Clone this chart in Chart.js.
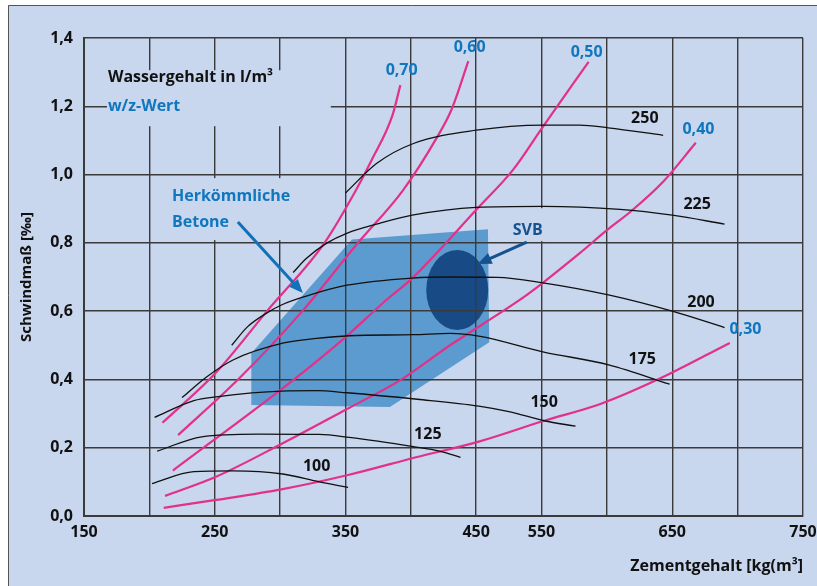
<!DOCTYPE html>
<html>
<head>
<meta charset="utf-8">
<script src="https://cdn.jsdelivr.net/npm/chart.js@4"></script>
<style>
  body { margin: 0; background: #fff; }
  canvas { display: block; }
</style>
</head>
<body>
<canvas id="myChart" width="817" height="586"></canvas>
<script>
// Tick labels as printed in the original figure
var xTickLabels = ['150', '', '250', '', '350', '', '450', '550', '', '650', '', '750'];
var yTickLabels = ['0,0', '0,2', '0,4', '0,6', '0,8', '1,0', '1,2', '1,4'];

// Wassergehalt curves, points are [Zementgehalt, Schwindmaß]
var water100 = [[202, 0.095], [234, 0.13], [264, 0.132], [302, 0.123], [330, 0.10], [352, 0.084]];
var water125 = [[206, 0.19], [240, 0.232], [283, 0.24], [330, 0.239], [353, 0.23], [402, 0.203], [422, 0.19], [438, 0.172]];
var water150 = [[204, 0.289], [234, 0.338], [251, 0.349], [301, 0.366], [328, 0.367], [351, 0.361], [405, 0.342], [452, 0.322], [476, 0.305], [502, 0.279], [526, 0.263]];
var water175 = [[225, 0.347], [244, 0.408], [264, 0.457], [302, 0.506], [328, 0.52], [353, 0.528], [402, 0.531], [430, 0.535], [452, 0.527], [501, 0.481], [552, 0.442], [598, 0.386]];
var water200 = [[263, 0.50], [275, 0.554], [290, 0.595], [301, 0.618], [320, 0.644], [351, 0.676], [401, 0.697], [430, 0.70], [466, 0.699], [501, 0.683], [552, 0.647], [600, 0.60], [640, 0.552]];
var water225 = [[310, 0.713], [320, 0.754], [336, 0.80], [351, 0.828], [376, 0.857], [401, 0.881], [450, 0.904], [501, 0.907], [560, 0.898], [600, 0.881], [640, 0.855]];
var water250 = [[350, 0.946], [374, 1.033], [402, 1.091], [450, 1.13], [501, 1.145], [529, 1.145], [551, 1.137], [593, 1.115]];
var waterLabels = ['100', '125', '150', '175', '200', '225', '250'];
var waterCurves = [water100, water125, water150, water175, water200, water225, water250];

// w/z-Wert curves
var wz030 = [[211, 0.024], [251, 0.047], [301, 0.078], [352, 0.12], [404, 0.172], [452, 0.218], [502, 0.279], [545, 0.328], [588, 0.398], [644, 0.507]];
var wz040 = [[212, 0.059], [251, 0.115], [302, 0.213], [352, 0.315], [392, 0.398], [430, 0.50], [483, 0.632], [501, 0.683], [529, 0.769], [550, 0.837], [568, 0.891], [593, 0.979], [618, 1.093]];
var wz050 = [[218, 0.133], [310, 0.398], [351, 0.527], [381, 0.632], [401, 0.696], [452, 0.905], [478, 1.013], [501, 1.14], [536, 1.33]];
var wz060 = [[222, 0.237], [269, 0.404], [317, 0.60], [358, 0.793], [394, 0.954], [420, 1.109], [431, 1.189], [444, 1.332]];
var wz070 = [[210, 0.273], [251, 0.42], [290, 0.60], [334, 0.80], [358, 0.954], [370, 1.042], [386, 1.174], [392, 1.262]];
var wzLabels = ['0,30', '0,40', '0,50', '0,60', '0,70'];
var wzCurves = [wz030, wz040, wz050, wz060, wz070];

// Areas: conventional concrete and SVB
var betoneArea = [[278, 0.477], [355, 0.81], [459, 0.84], [460, 0.509], [384, 0.319], [278, 0.325]];
var svbCenter = [435.5, 0.662];
var svbRadius = [23.7, 0.117];

// Where the texts go (data coordinates)
var waterLabelPos = [[328, 0.146], [413, 0.24], [502, 0.334], [577, 0.46], [622, 0.626], [619, 0.913], [579, 1.165]];
var wzLabelPos = [[656, 0.545], [620, 1.133], [534.5, 1.358], [445, 1.373], [393, 1.306]];

var BG = '#c8d6ee';
var MAGENTA = '#e2318a';
var BLUE = '#1076bd';
var DARKBLUE = '#15528f';
var GRID = '#3a3a3a';
var FONT = 'Open Sans';

function toPx(chart, p) {
    return [chart.scales.x.getPixelForValue(p[0]), chart.scales.y.getPixelForValue(p[1])];
}

// fill a box in data coordinates with the background colour (hides grid behind texts)
function clearBox(chart, x0, y0, x1, y1) {
    var a = toPx(chart, [x0, y0]);
    var b = toPx(chart, [x1, y1]);
    chart.ctx.fillStyle = BG;
    chart.ctx.fillRect(a[0], a[1], b[0] - a[0], b[1] - a[1]);
}

function drawText(chart, text, pos, color, align) {
    var ctx = chart.ctx;
    var p = toPx(chart, pos);
    ctx.font = 'bold 16px "' + FONT + '"';
    ctx.fillStyle = color;
    ctx.textAlign = align || 'center';
    ctx.textBaseline = 'middle';
    ctx.fillText(text, p[0], p[1]);
}

function drawArrow(chart, from, to, color) {
    var ctx = chart.ctx;
    var a = toPx(chart, from);
    var b = toPx(chart, to);
    var ang = Math.atan2(b[1] - a[1], b[0] - a[0]);
    var head = 15;
    ctx.strokeStyle = color;
    ctx.fillStyle = color;
    ctx.lineWidth = 3;
    ctx.beginPath();
    ctx.moveTo(a[0], a[1]);
    ctx.lineTo(b[0] - Math.cos(ang) * head * 0.8, b[1] - Math.sin(ang) * head * 0.8);
    ctx.stroke();
    ctx.beginPath();
    ctx.moveTo(b[0], b[1]);
    ctx.lineTo(b[0] - head * Math.cos(ang - 0.4), b[1] - head * Math.sin(ang - 0.4));
    ctx.lineTo(b[0] - head * Math.cos(ang + 0.4), b[1] - head * Math.sin(ang + 0.4));
    ctx.closePath();
    ctx.fill();
}

var figurePlugin = {
    id: 'figure',
    beforeDraw: function(chart) {
        var ctx = chart.ctx;
        ctx.save();
        ctx.fillStyle = '#fff';
        ctx.fillRect(0, 0, chart.width, chart.height);
        ctx.fillStyle = BG;
        ctx.fillRect(8, 5, chart.width - 8, chart.height - 5);
        ctx.strokeStyle = '#555';
        ctx.lineWidth = 1;
        ctx.beginPath();
        ctx.moveTo(8.5, chart.height);
        ctx.lineTo(8.5, 5.5);
        ctx.lineTo(chart.width, 5.5);
        ctx.stroke();

        // Herkömmliche Betone
        ctx.fillStyle = '#5c9bcf';
        ctx.beginPath();
        for (var i = 0; i < betoneArea.length; i++) {
            var q = toPx(chart, betoneArea[i]);
            if (i == 0) ctx.moveTo(q[0], q[1]); else ctx.lineTo(q[0], q[1]);
        }
        ctx.closePath();
        ctx.fill();

        // SVB
        var c = toPx(chart, svbCenter);
        var rx = chart.scales.x.getPixelForValue(svbCenter[0] + svbRadius[0]) - c[0];
        var ry = c[1] - chart.scales.y.getPixelForValue(svbCenter[1] + svbRadius[1]);
        ctx.fillStyle = '#184a86';
        ctx.beginPath();
        ctx.ellipse(c[0], c[1], rx, ry, 0, 0, 2 * Math.PI);
        ctx.fill();
        ctx.restore();
    },
    beforeDatasetsDraw: function(chart) {
        chart.ctx.save();
        clearBox(chart, 167.6, 1.3056, 338.8, 1.1417);
        clearBox(chart, 211.9, 0.9895, 315.1, 0.808);
        clearBox(chart, 474.1, 0.9016, 505.5, 0.805);
        chart.ctx.restore();
    },
    afterDraw: function(chart) {
        var ctx = chart.ctx;
        ctx.save();
        for (var i = 0; i < waterLabels.length; i++) {
            drawText(chart, waterLabels[i], waterLabelPos[i], '#111');
        }
        for (var j = 0; j < wzLabels.length; j++) {
            drawText(chart, wzLabels[j], wzLabelPos[j], BLUE);
        }
        drawText(chart, 'Wassergehalt in l/m³', [168.3, 1.285], '#111', 'left');
        drawText(chart, 'w/z-Wert', [168.3, 1.200], BLUE, 'left');
        drawText(chart, 'Herkömmliche', [217.3, 0.937], BLUE, 'left');
        drawText(chart, 'Betone', [217.3, 0.861], BLUE, 'left');
        drawText(chart, 'SVB', [489.4, 0.837], DARKBLUE);
        drawArrow(chart, [267.7, 0.861], [317.4, 0.653], '#1070b8');
        drawArrow(chart, [488.7, 0.802], [451.2, 0.738], DARKBLUE);
        ctx.restore();
    }
};

function toPoints(curve) {
    return curve.map(function(p) { return { x: p[0], y: p[1] }; });
}

var datasets = [];
for (var i = 0; i < waterCurves.length; i++) {
    datasets.push({
        label: waterLabels[i],
        data: toPoints(waterCurves[i]),
        borderColor: '#111',
        borderWidth: 1.3,
        pointRadius: 0,
        cubicInterpolationMode: 'monotone'
    });
}
for (var k = 0; k < wzCurves.length; k++) {
    datasets.push({
        label: wzLabels[k],
        data: toPoints(wzCurves[k]),
        borderColor: MAGENTA,
        borderWidth: 2.2,
        pointRadius: 0,
        cubicInterpolationMode: 'monotone'
    });
}

var tickFont = { family: FONT, weight: 'bold', size: 16 };

new Chart('myChart', {
    type: 'line',
    data: { datasets: datasets },
    plugins: [figurePlugin],
    options: {
        responsive: false,
        animation: false,
        devicePixelRatio: 1,
        layout: { padding: { top: 38, right: 14, left: 0, bottom: 0 } },
        plugins: { legend: { display: false }, tooltip: { enabled: false } },
        scales: {
            x: {
                type: 'linear',
                min: 150,
                max: 700,
                afterFit: function(scale) {
                    scale.height = 70;
                    scale.paddingLeft = 0;
                    scale.paddingRight = 0;
                },
                ticks: {
                    stepSize: 50,
                    autoSkip: false,
                    maxRotation: 0,
                    padding: 7,
                    color: '#111',
                    font: tickFont,
                    callback: function(value, index) { return xTickLabels[index]; }
                },
                grid: { color: GRID, lineWidth: 1.4, drawTicks: false },
                border: { color: GRID, width: 2 },
                title: {
                    display: true,
                    text: 'Zementgehalt [kg(m³]',
                    align: 'end',
                    color: '#111',
                    font: tickFont,
                    padding: { top: 0, bottom: 10 }
                }
            },
            y: {
                min: 0,
                max: 1.4,
                afterFit: function(scale) { scale.width = 84; },
                ticks: {
                    stepSize: 0.2,
                    padding: 11,
                    color: '#111',
                    font: tickFont,
                    callback: function(value, index) { return yTickLabels[index]; }
                },
                grid: { color: GRID, lineWidth: 1.4, drawTicks: false },
                border: { color: GRID, width: 2 },
                title: {
                    display: true,
                    text: 'Schwindmaß [‰]',
                    color: '#111',
                    font: { family: FONT, weight: 'bold', size: 15 },
                    padding: { top: 18, bottom: 0 }
                }
            }
        }
    }
});
</script>
</body>
</html>
